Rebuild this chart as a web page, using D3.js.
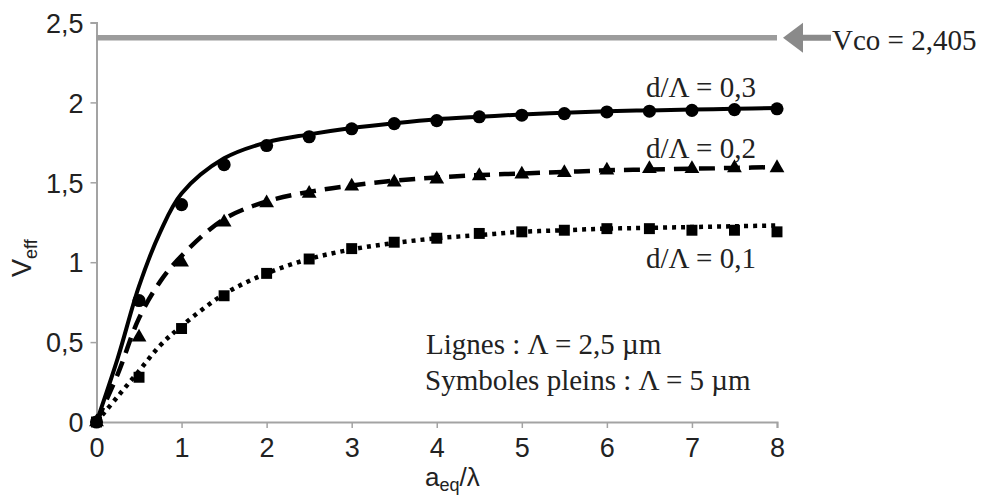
<!DOCTYPE html>
<html>
<head>
<meta charset="utf-8">
<script src="https://cdn.jsdelivr.net/npm/d3@7"></script>
<style>
  body { margin: 0; background: #fff; }
  svg { display: block; }
</style>
</head>
<body>
<div id="chart"></div>
<script>
// Symbol points (Lambda = 5 um)
const xSymbols = [0, 0.5, 1, 1.5, 2, 2.5, 3, 3.5, 4, 4.5, 5, 5.5, 6, 6.5, 7, 7.5, 8];
const circles03 = [0, 0.76, 1.36, 1.61, 1.73, 1.785, 1.835, 1.867, 1.886, 1.91, 1.92, 1.93, 1.94, 1.945, 1.95, 1.955, 1.96];
const triangles02 = [0, 0.53, 1.0, 1.25, 1.37, 1.43, 1.475, 1.5, 1.52, 1.54, 1.55, 1.56, 1.575, 1.585, 1.585, 1.59, 1.59];
const squares01 = [0, 0.28, 0.585, 0.79, 0.93, 1.02, 1.085, 1.125, 1.15, 1.18, 1.19, 1.2, 1.21, 1.21, 1.2, 1.2, 1.19];

// Line curves (Lambda = 2.5 um)
const xLines = [0, 0.25, 0.5, 0.75, 1, 1.5, 2, 2.5, 3, 3.5, 4, 4.5, 5, 5.5, 6, 6.5, 7, 7.5, 8];
const line03 = [0, 0.4, 0.85, 1.19, 1.43, 1.65, 1.75, 1.8, 1.84, 1.87, 1.895, 1.91, 1.925, 1.935, 1.945, 1.95, 1.955, 1.96, 1.965];
const line02 = [0, 0.3, 0.65, 0.88, 1.04, 1.27, 1.38, 1.44, 1.48, 1.51, 1.53, 1.545, 1.555, 1.565, 1.575, 1.58, 1.585, 1.59, 1.595];
const line01 = [0, 0.16, 0.32, 0.48, 0.6, 0.8, 0.93, 1.02, 1.08, 1.12, 1.15, 1.17, 1.19, 1.2, 1.21, 1.215, 1.22, 1.225, 1.23];

const vco = 2.405;
const xTicks = [0, 1, 2, 3, 4, 5, 6, 7, 8];
const yTicks = [0, 0.5, 1, 1.5, 2, 2.5];
const yTickLabels = ["0", "0,5", "1", "1,5", "2", "2,5"];

const width = 990, height = 497;
const margin = { left: 96.5, right: 213, top: 22.5, bottom: 75 };

const svg = d3.select("#chart")
    .append("svg")
    .attr("width", width)
    .attr("height", height);

const xScale = d3.scaleLinear()
    .domain([0, 8])
    .range([margin.left, width - margin.right]);

const yScale = d3.scaleLinear()
    .domain([0, 2.5])
    .range([height - margin.bottom, margin.top]);

const axisColor = "#a3a3a3";
const sans = "'Liberation Sans', Arial, sans-serif";
const serif = "'Liberation Serif', 'Times New Roman', serif";

// Axes
const xAxis = svg.append("g")
    .attr("transform", `translate(0, ${yScale(0)})`)
    .call(d3.axisBottom(xScale).tickValues(xTicks).tickSizeOuter(0).tickSize(6).tickPadding(10));

const yAxis = svg.append("g")
    .attr("transform", `translate(${xScale(0)}, 0)`)
    .call(d3.axisLeft(yScale).tickValues(yTicks).tickSizeOuter(0).tickSize(6).tickPadding(7)
        .tickFormat((d, i) => yTickLabels[i]));

[xAxis, yAxis].forEach(g => {
    g.select(".domain").attr("stroke", axisColor).attr("stroke-width", 2);
    g.selectAll(".tick line").attr("stroke", axisColor).attr("stroke-width", 1.5);
    g.selectAll(".tick text")
        .attr("fill", "#222")
        .style("font-family", sans)
        .style("font-size", "27px");
});
yAxis.selectAll(".tick text").attr("dy", "0.36em");
xAxis.selectAll(".tick text").attr("dy", "0.72em");

// Vco horizontal line
svg.append("line")
    .attr("x1", xScale(0))
    .attr("x2", xScale(8))
    .attr("y1", yScale(vco))
    .attr("y2", yScale(vco))
    .attr("stroke", "#9c9c9c")
    .attr("stroke-width", 5.5);

// Arrow pointing to the Vco line
const ay = yScale(vco);
const tip = xScale(8) + 6;
svg.append("path")
    .attr("d", `M${tip},${ay} L${tip + 20},${ay - 15} L${tip + 20},${ay - 3} L${tip + 48},${ay - 3} L${tip + 48},${ay + 3} L${tip + 20},${ay + 3} L${tip + 20},${ay + 15} Z`)
    .attr("fill", "#8a8a8a");

svg.append("text")
    .attr("x", tip + 49)
    .attr("y", ay + 12)
    .style("font-family", serif)
    .style("font-size", "29px")
    .attr("fill", "#222")
    .text("Vco = 2,405");

// Curves
const lineGen = d3.line()
    .x((d, i) => xScale(xLines[i]))
    .y(d => yScale(d))
    .curve(d3.curveCatmullRom.alpha(0.5));

svg.append("path")
    .datum(line03)
    .attr("d", lineGen)
    .attr("fill", "none")
    .attr("stroke", "#000")
    .attr("stroke-width", 4);

svg.append("path")
    .datum(line02)
    .attr("d", lineGen)
    .attr("fill", "none")
    .attr("stroke", "#000")
    .attr("stroke-width", 4.5)
    .attr("stroke-dasharray", "16,9");

svg.append("path")
    .datum(line01)
    .attr("d", lineGen)
    .attr("fill", "none")
    .attr("stroke", "#000")
    .attr("stroke-width", 4.5)
    .attr("stroke-dasharray", "4,5");

// Symbols
function drawSymbols(values, type, size) {
    svg.append("g")
        .selectAll("path")
        .data(values)
        .enter().append("path")
        .attr("transform", (d, i) => `translate(${xScale(xSymbols[i])}, ${yScale(d)})`)
        .attr("d", d3.symbol().type(type).size(size))
        .attr("fill", "#000");
}
drawSymbols(circles03, d3.symbolCircle, 135);
drawSymbols(triangles02, d3.symbolTriangle, 95);
drawSymbols(squares01, d3.symbolSquare, 120);

// Curve labels
const curveLabels = [
    { text: "d/\u039B = 0,3", x: 646, y: 97 },
    { text: "d/\u039B = 0,2", x: 646, y: 158 },
    { text: "d/\u039B = 0,1", x: 646, y: 268 }
];
svg.selectAll(".curve-label")
    .data(curveLabels)
    .enter().append("text")
    .attr("class", "curve-label")
    .attr("x", d => d.x)
    .attr("y", d => d.y)
    .style("font-family", serif)
    .style("font-size", "29px")
    .attr("fill", "#222")
    .text(d => d.text);

// Note
svg.append("text")
    .attr("x", 426)
    .attr("y", 354)
    .style("font-family", serif)
    .style("font-size", "29px")
    .attr("fill", "#222")
    .text("Lignes : \u039B = 2,5 \u00B5m");

svg.append("text")
    .attr("x", 425)
    .attr("y", 390)
    .style("font-family", serif)
    .style("font-size", "29px")
    .attr("fill", "#222")
    .text("Symboles pleins : \u039B = 5 \u00B5m");

// Axis titles
const xTitle = svg.append("text")
    .attr("x", 425)
    .attr("y", 486)
    .style("font-family", sans)
    .style("font-size", "26px")
    .attr("fill", "#222");
xTitle.append("tspan").text("a");
xTitle.append("tspan").attr("dy", 5).style("font-size", "18px").text("eq");
xTitle.append("tspan").attr("dy", -5).text("/\u03BB");

const yTitle = svg.append("text")
    .attr("transform", "translate(31, 277) rotate(-90)")
    .style("font-family", sans)
    .style("font-size", "27px")
    .attr("fill", "#222");
yTitle.append("tspan").text("V");
yTitle.append("tspan").attr("dy", 6).style("font-size", "18px").text("eff");
</script>
</body>
</html>
